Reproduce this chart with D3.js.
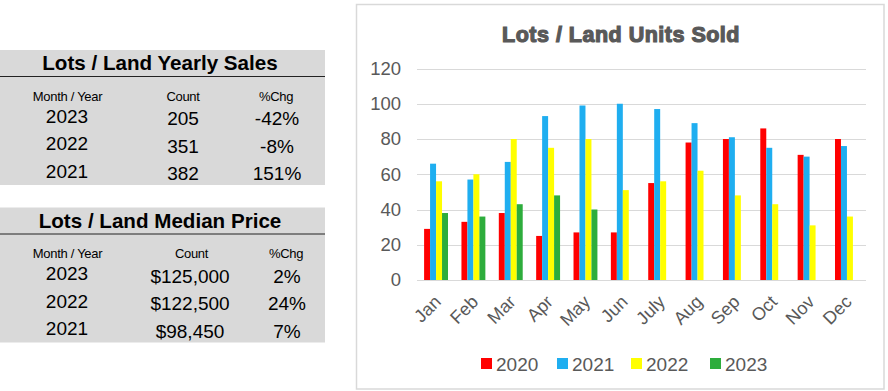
<!DOCTYPE html>
<html><head><meta charset="utf-8">
<script src="https://cdn.jsdelivr.net/npm/d3@7"></script>
<style>body{margin:0;background:#fff;}svg{display:block;font-family:Arial,"Liberation Sans",sans-serif;}</style>
</head><body><svg id="c" width="888" height="391"></svg>
<script>
const months = ["Jan","Feb","Mar","Apr","May","Jun","July","Aug","Sep","Oct","Nov","Dec"];
const years = ["2020","2021","2022","2023"];
const s2020 = [29,33,38,25,27,27,55,78,80,86,71,80];
const s2021 = [66,57,67,93,99,100,97,89,81,75,70,76];
const s2022 = [56,60,80,75,80,51,56,62,48,43,31,36];
const s2023 = [38,36,43,48,40,null,null,null,null,null,null,null];
const yTicks = [0,20,40,60,80,100,120];
const colors = ["#FF0000","#1FAEF0","#FFFF00","#2DAD3C"];

const salesTitle = "Lots / Land Yearly Sales";
const salesHead = ["Month / Year","Count","%Chg"];
const salesYears = ["2023","2022","2021"];
const salesCount = ["205","351","382"];
const salesChg = ["-42%","-8%","151%"];
const priceTitle = "Lots / Land Median Price";
const priceHead = ["Month / Year","Count","%Chg"];
const priceYears = ["2023","2022","2021"];
const priceCount = ["$125,000","$122,500","$98,450"];
const priceChg = ["2%","24%","7%"];

const svg = d3.select("#c");

// ---- Tables ----
function table(top, title, head, yrs, cnt, chg, cols) {
  const g = svg.append("g");
  g.append("rect").attr("x",0).attr("y",top).attr("width",325).attr("height",135).attr("fill","#D9D9D9");
  g.append("text").attr("x",160).attr("y",top+20).attr("text-anchor","middle")
    .attr("font-size",20.6).attr("font-weight","bold").attr("fill","#000").text(title);
  g.append("line").attr("x1",0).attr("x2",325).attr("y1",top+26.5).attr("y2",top+26.5).attr("stroke","#222").attr("stroke-width",1);
  head.forEach((h,i)=>{
    g.append("text").attr("x",cols.h[i]).attr("y",top+50.5).attr("text-anchor","middle")
      .attr("font-size",13).attr("letter-spacing",-0.3).attr("fill","#000").text(h);
  });
  yrs.forEach((y,r)=>{
    const by = top+72.5+r*27.7;
    g.append("text").attr("x",cols.v[0]).attr("y",by).attr("text-anchor","middle").attr("font-size",19).attr("fill","#000").text(y);
    g.append("text").attr("x",cols.v[1]).attr("y",by+2.5).attr("text-anchor","middle").attr("font-size",19).attr("fill","#000").text(cnt[r]);
    g.append("text").attr("x",cols.v[2]).attr("y",by+2.5).attr("text-anchor","middle").attr("font-size",19).attr("fill","#000").text(chg[r]);
  });
}
table(50, salesTitle, salesHead, salesYears, salesCount, salesChg, {h:[67.5,183,276], v:[67,183,277]});
table(207.5, priceTitle, priceHead, priceYears, priceCount, priceChg, {h:[67.5,191.5,286], v:[67,190,287]});

// ---- Chart ----
svg.append("rect").attr("x",356.5).attr("y",4.5).attr("width",527.5).attr("height",384.5)
  .attr("fill","#fff").attr("stroke","#D9D9D9").attr("stroke-width",1.5);

svg.append("text").attr("x",621).attr("y",41.5).attr("text-anchor","middle")
  .attr("font-size",21.5).attr("font-weight","bold").attr("fill","#595959")
  .attr("stroke","#595959").attr("stroke-width",1.2).attr("letter-spacing",0.5)
  .text("Lots / Land Units Sold");

const x0 = d3.scaleBand().domain(months).range([417,866]).paddingInner(0.36).paddingOuter(0.19);
const x1 = d3.scaleBand().domain(years).range([0,x0.bandwidth()]);
const y = d3.scaleLinear().domain([0,120]).range([280,68.5]);

// grid
svg.append("g").selectAll("line").data(yTicks).join("line")
  .attr("x1",417).attr("x2",866).attr("y1",d=>Math.round(y(d))+0.5).attr("y2",d=>Math.round(y(d))+0.5)
  .attr("stroke","#D9D9D9").attr("stroke-width",1);

// y axis
const ya = svg.append("g").attr("transform","translate(417,0)")
  .call(d3.axisLeft(y).tickValues(yTicks).tickSize(0).tickPadding(16));
ya.select(".domain").remove();
ya.selectAll("text").attr("font-size",18.5).attr("fill","#595959").attr("font-family","Arial,'Liberation Sans',sans-serif");

// bars
const series = [s2020,s2021,s2022,s2023];
const rows = [];
months.forEach((m,i)=>years.forEach((yr,j)=>{ if(series[j][i]!=null) rows.push({m,yr,v:series[j][i],c:colors[j]}); }));
svg.append("g").selectAll("rect").data(rows).join("rect")
  .attr("x",d=>x0(d.m)+x1(d.yr)).attr("width",x1.bandwidth())
  .attr("y",d=>y(d.v)).attr("height",d=>y(0)-y(d.v)).attr("fill",d=>d.c);

// x axis labels
const xa = svg.append("g").attr("transform","translate(0,280)")
  .call(d3.axisBottom(x0).tickSize(0).tickPadding(0));
xa.select(".domain").remove();
xa.selectAll("text").attr("font-size",18).attr("fill","#595959").attr("font-family","Arial,'Liberation Sans',sans-serif")
  .attr("text-anchor","end").attr("dy",0).attr("transform","translate(6,23) rotate(-45)");

// legend
const lx = [481,557,631,710];
const lg = svg.append("g");
years.forEach((yr,j)=>{
  lg.append("rect").attr("x",lx[j]).attr("y",358).attr("width",11).attr("height",11).attr("fill",colors[j]);
  lg.append("text").attr("x",lx[j]+15).attr("y",370.5).attr("font-size",19).attr("fill","#595959").text(yr);
});
</script></body></html>
